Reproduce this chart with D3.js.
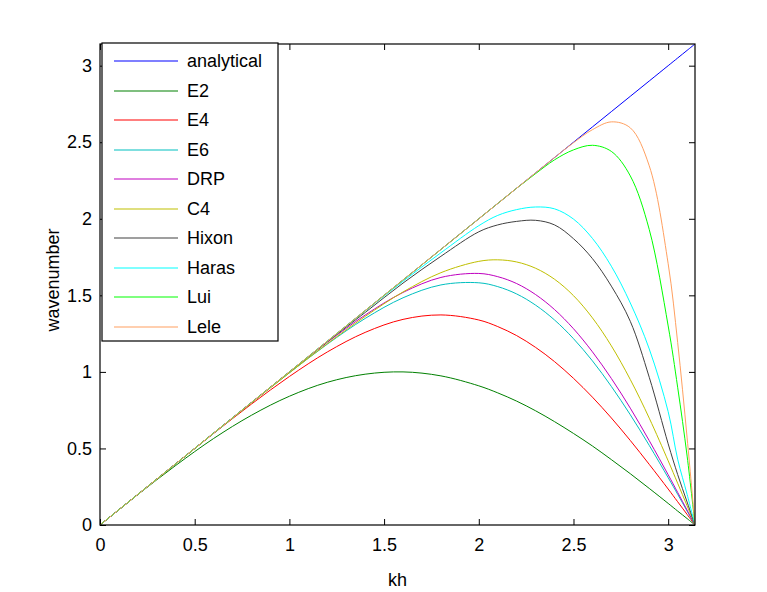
<!DOCTYPE html>
<html>
<head>
<meta charset="utf-8">
<script src="https://cdn.jsdelivr.net/npm/d3@7"></script>
<style>
  body { margin: 0; background: #fff; }
  text { font-family: "Liberation Sans", Arial, sans-serif; }
</style>
</head>
<body>
<div id="chart"></div>
<script>
// sample points along kh
const kh = [0, 0.2, 0.4, 0.6, 0.8, 1.0, 1.2, 1.4, 1.6, 1.8, 2.0, 2.1, 2.2, 2.3, 2.4, 2.5, 2.6, 2.7, 2.8, 2.9, 3.0, 3.05, 3.1, 3.1416];

const analytical = [0, 0.2, 0.4, 0.6, 0.8, 1.0, 1.2, 1.4, 1.6, 1.8, 2.0, 2.1, 2.2, 2.3, 2.4, 2.5, 2.6, 2.7, 2.8, 2.9, 3.0, 3.05, 3.1, 3.1416];
const e2 = [0, 0.199, 0.389, 0.565, 0.717, 0.841, 0.932, 0.985, 1.000, 0.974, 0.909, 0.863, 0.809, 0.746, 0.675, 0.598, 0.516, 0.427, 0.335, 0.239, 0.141, 0.091, 0.042, 0];
const e4 = [0, 0.200, 0.400, 0.598, 0.790, 0.970, 1.130, 1.258, 1.343, 1.372, 1.339, 1.296, 1.237, 1.160, 1.067, 0.958, 0.835, 0.699, 0.552, 0.396, 0.235, 0.152, 0.069, 0];
const e6 = [0, 0.200, 0.400, 0.600, 0.799, 0.994, 1.181, 1.349, 1.484, 1.568, 1.582, 1.557, 1.509, 1.436, 1.339, 1.217, 1.072, 0.905, 0.720, 0.520, 0.309, 0.201, 0.091, 0];
const drp = [0, 0.200, 0.400, 0.600, 0.801, 1.000, 1.193, 1.371, 1.519, 1.617, 1.643, 1.622, 1.577, 1.505, 1.407, 1.282, 1.131, 0.957, 0.763, 0.551, 0.328, 0.213, 0.097, 0];
const c4 = [0, 0.200, 0.400, 0.600, 0.798, 0.994, 1.184, 1.362, 1.522, 1.648, 1.722, 1.732, 1.718, 1.677, 1.605, 1.498, 1.353, 1.170, 0.950, 0.698, 0.419, 0.273, 0.125, 0];
const hixon = [0, 0.200, 0.400, 0.600, 0.800, 0.999, 1.197, 1.388, 1.580, 1.755, 1.915, 1.960, 1.983, 1.990, 1.960, 1.870, 1.740, 1.560, 1.330, 0.965, 0.530, 0.330, 0.150, 0];
const haras = [0, 0.200, 0.400, 0.600, 0.800, 1.000, 1.200, 1.398, 1.592, 1.778, 1.955, 2.022, 2.060, 2.077, 2.065, 1.998, 1.872, 1.690, 1.450, 1.150, 0.740, 0.430, 0.200, 0];
const lui = [0, 0.2, 0.4, 0.6, 0.8, 1.0, 1.2, 1.4, 1.6, 1.8, 2.0, 2.1, 2.2, 2.295, 2.385, 2.450, 2.480, 2.440, 2.280, 1.930, 1.300, 0.900, 0.450, 0];
const lele = [0, 0.2, 0.4, 0.6, 0.8, 1.0, 1.2, 1.4, 1.6, 1.8, 2.0, 2.1, 2.2, 2.3, 2.4, 2.497, 2.582, 2.633, 2.594, 2.346, 1.706, 1.193, 0.569, 0];

const names = ["analytical", "E2", "E4", "E6", "DRP", "C4", "Hixon", "Haras", "Lui", "Lele"];
const values = [analytical, e2, e4, e6, drp, c4, hixon, haras, lui, lele];
const colors = ["#0000ff", "#008000", "#ff0000", "#00bfbf", "#bf00bf", "#bfbf00", "#404040", "#00ffff", "#00ff00", "#ffa060"];

const xTicks = [0, 0.5, 1, 1.5, 2, 2.5, 3];
const yTicks = [0, 0.5, 1, 1.5, 2, 2.5, 3];

const W = 767, H = 592;
const margin = { top: 44, right: 72, bottom: 67, left: 100 },
    width = W - margin.left - margin.right,
    height = H - margin.top - margin.bottom;

const svg = d3.select("#chart").append("svg")
    .attr("width", W)
    .attr("height", H);

svg.append("rect").attr("width", W).attr("height", H).attr("fill", "#fff");

const g = svg.append("g")
    .attr("transform", `translate(${margin.left},${margin.top})`);

const x = d3.scaleLinear().domain([0, Math.PI]).range([0, width]);
const y = d3.scaleLinear().domain([0, Math.PI]).range([height, 0]);

g.append("clipPath").attr("id", "clip")
    .append("rect").attr("width", width).attr("height", height);

const fmt = d3.format("~g");

// axes, ticks pointing inward on all four sides
const xAxis = g.append("g")
    .attr("transform", `translate(0,${height})`)
    .call(d3.axisBottom(x).tickValues(xTicks).tickFormat(fmt).tickSize(-6).tickPadding(13));
const xTop = g.append("g")
    .call(d3.axisTop(x).tickValues(xTicks).tickFormat("").tickSize(-6));
const yAxis = g.append("g")
    .call(d3.axisLeft(y).tickValues(yTicks).tickFormat(fmt).tickSize(-6).tickPadding(8));
const yRight = g.append("g")
    .attr("transform", `translate(${width},0)`)
    .call(d3.axisRight(y).tickValues(yTicks).tickFormat("").tickSize(-6));

[xAxis, xTop, yAxis, yRight].forEach(a => {
    a.select(".domain").remove();
    a.selectAll("line").attr("stroke", "#000");
    a.selectAll("text")
        .attr("fill", "#000")
        .style("font-size", "18px")
        .style("font-family", "'Liberation Sans', Arial, sans-serif");
});

// curves
const line = d3.line()
    .x((d, i) => x(kh[i]))
    .y(d => y(d))
    .curve(d3.curveCatmullRom.alpha(0.5));

g.append("g").attr("clip-path", "url(#clip)")
    .selectAll("path")
    .data(values)
    .enter().append("path")
    .attr("fill", "none")
    .attr("stroke", (d, i) => colors[i])
    .attr("stroke-width", 1)
    .attr("d", line);

// frame
g.append("rect")
    .attr("width", width)
    .attr("height", height)
    .attr("fill", "none")
    .attr("stroke", "#000")
    .attr("stroke-width", 1.2);

// axis labels
svg.append("text")
    .attr("x", margin.left + width / 2)
    .attr("y", 586)
    .attr("text-anchor", "middle")
    .style("font-size", "18px")
    .text("kh");

svg.append("text")
    .attr("transform", "translate(59,280) rotate(-90)")
    .attr("text-anchor", "middle")
    .style("font-size", "18px")
    .text("wavenumber");

// legend
const legend = svg.append("g").attr("transform", "translate(102,43)");
legend.append("rect")
    .attr("width", 176)
    .attr("height", 298)
    .attr("fill", "#fff")
    .attr("stroke", "#000")
    .attr("stroke-width", 1.2);

const items = legend.selectAll(".item")
    .data(names)
    .enter().append("g")
    .attr("class", "item")
    .attr("transform", (d, i) => `translate(0,${Math.round(18 + i * 29.5)})`);

items.append("line")
    .attr("x1", 12).attr("x2", 76)
    .attr("stroke", (d, i) => colors[i])
    .attr("stroke-width", 1.2);

items.append("text")
    .attr("x", 85)
    .attr("dy", "0.35em")
    .style("font-size", "18px")
    .text(d => d);
</script>
</body>
</html>
